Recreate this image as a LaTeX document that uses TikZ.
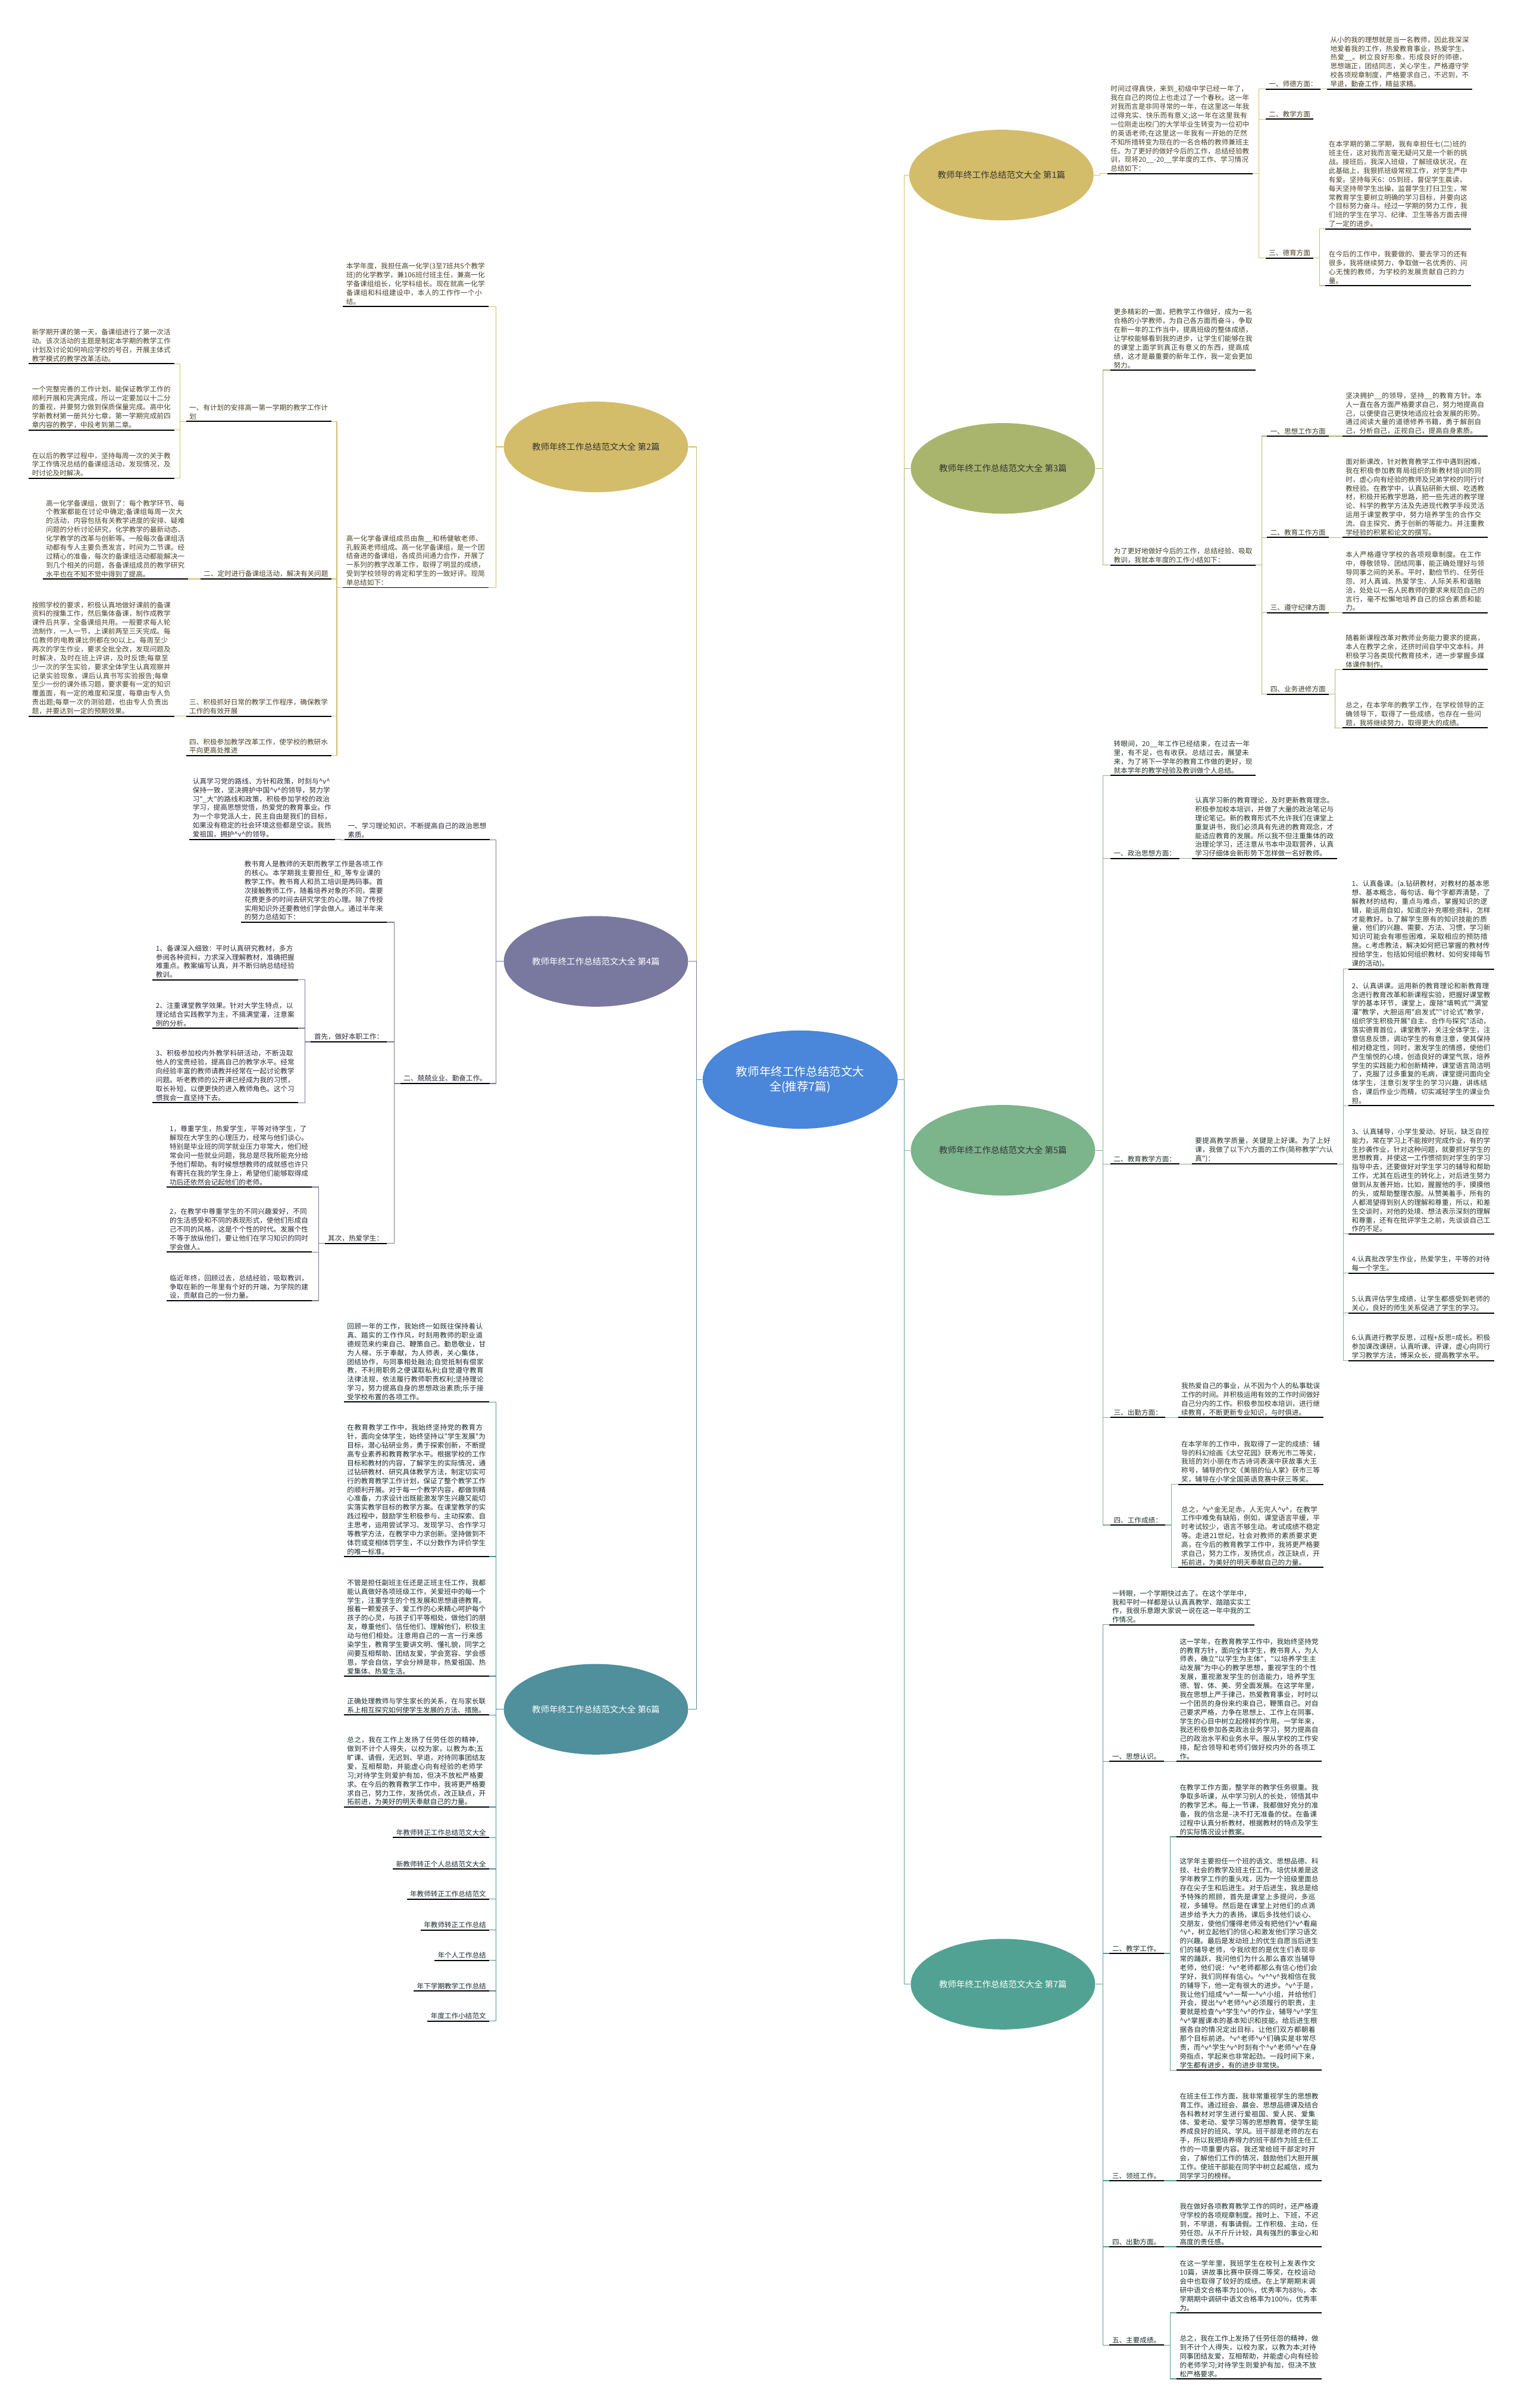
\documentclass[tikz,border=0pt]{standalone}
\usepackage{fontspec}
\newfontfamily\cjk{Noto Sans CJK SC}
\usetikzlibrary{shapes.geometric}
\XeTeXlinebreaklocale "zh"
\XeTeXlinebreakskip = 0pt plus 1pt
\newcommand{\vhat}{\textasciicircum v\textasciicircum}
\definecolor{cmain}{RGB}{74,134,217}
\definecolor{cgold}{RGB}{212,189,106}
\definecolor{colive}{RGB}{169,181,108}
\definecolor{cpurple}{RGB}{121,121,159}
\definecolor{cgreen}{RGB}{124,180,139}
\definecolor{cteal}{RGB}{80,143,156}
\definecolor{cjade}{RGB}{81,162,146}
\begin{document}
\begin{tikzpicture}[x=0.05cm,y=-0.05cm]
\tikzstyle{centre} = [ellipse, fill=cmain, text=white, minimum width=6.35cm, minimum height=3.2cm, align=center, font=\cjk\fontsize{10.8}{14}\selectfont]
\tikzstyle{main} = [ellipse, minimum width=6cm, minimum height=2.95cm, inner sep=0pt, text=black!80, font=\cjk\fontsize{8}{10}\selectfont]
\tikzstyle{ul} = [font=\cjk\fontsize{6.4}{8.2}\selectfont, align=left, inner xsep=0.1cm, inner ysep=0.05cm,
  append after command={(\tikzlastnode.south west) edge[draw=black, line width=1.1pt] (\tikzlastnode.south east)}]
\tikzstyle{leaf} = [ul, text width=4.52cm]
\tikzstyle{lbl} = [ul]
\tikzstyle{link} = [line width=0.7pt]
%
\path[use as bounding box, fill=white] (0,0) rectangle (992,1568);
%
\node[centre] (c) at (521,703) {教师年终工作总结范文大\\全(推荐7篇)};
\node[main, fill=cgold] (p1) at (652,114) {教师年终工作总结范文大全 第1篇};
\node[main, fill=cgold] (p2) at (388,291) {教师年终工作总结范文大全 第2篇};
\node[main, fill=colive] (p3) at (653,305) {教师年终工作总结范文大全 第3篇};
\node[main, fill=cpurple, text=white] (p4) at (388,626) {教师年终工作总结范文大全 第4篇};
\node[main, fill=cgreen] (p5) at (653,749) {教师年终工作总结范文大全 第5篇};
\node[main, fill=cteal, text=white] (p6) at (388,1113) {教师年终工作总结范文大全 第6篇};
\node[main, fill=cjade, text=white] (p7) at (653,1292) {教师年终工作总结范文大全 第7篇};
%
\draw[link, cgold] (c.east) -- ++(4,0) |- (p1.west);
\draw[link, cgold] (c.west) -- ++(-4,0) |- (p2.east);
\draw[link, colive] (c.east) -- ++(4,0) |- (p3.west);
\draw[link, cpurple] (c.west) -- ++(-4,0) |- (p4.east);
\draw[link, cgreen] (c.east) -- ++(4,0) |- (p5.west);
\draw[link, cteal] (c.west) -- ++(-4,0) |- (p6.east);
\draw[link, cjade] (c.east) -- ++(4,0) |- (p7.west);
%
% 第1篇
\begin{scope}[text=cgold!35!black]
\node[leaf, anchor=south west] (p1i) at (721,113) {时间过得真快，来到\_初级中学已经一年了，我在自己的岗位上也走过了一个春秋。这一年对我而言是非同寻常的一年，在这里这一年我过得充实、快乐而有意义;这一年在这里我有一位刚走出校门的大学毕业生转变为一位初中的英语老师;在这里这一年我有一开始的茫然不知所措转变为现在的一名合格的教师兼班主任。为了更好的做好今后的工作，总结经验教训，现将20\_\_-20\_\_学年度的工作、学习情况总结如下：};
\node[lbl, anchor=south west] (p1a) at (824,58) {一、师德方面：};
\node[leaf, anchor=south west] (p1a1) at (864,58) {从小的我的理想就是当一名教师，因此我深深地爱着我的工作，热爱教育事业，热爱学生、热爱\_\_。树立良好形象，形成良好的师德，思想端正，团结同志，关心学生，严格遵守学校各项规章制度，严格要求自己，不迟到，不早退，勤奋工作，精益求精。};
\node[lbl, anchor=south west] (p1b) at (824,77.6) {二、教学方面};
\node[lbl, anchor=south west] (p1c) at (824,168) {三、德育方面};
\node[leaf, anchor=south west] (p1c1) at (863,149) {在本学期的第二学期，我有幸担任七(二)班的班主任，这对我而言毫无疑问又是一个新的挑战。接班后，我深入班级，了解班级状况，在此基础上，我狠抓班级常规工作，对学生严中有爱。坚持每天6：05到班，督促学生晨读，每天坚持带学生出操，监督学生打扫卫生，常常教育学生要树立明确的学习目标，并要向这个目标努力奋斗。经过一学期的努力工作，我们班的学生在学习、纪律、卫生等各方面去得了一定的进步。};
\node[leaf, anchor=south west] (p1c2) at (863,186) {在今后的工作中，我要做的、要去学习的还有很多，我将继续努力，争取做一名优秀的、问心无愧的教师，为学校的发展贡献自己的力量。};
\end{scope}
\draw[link, cgold] (p1.east) -- ++(4,0) |- (p1i.south west);
\draw[link, cgold] (p1i.south east) -- ++(4,0) |- (p1a.south west);
\draw[link, cgold] (p1i.south east) -- ++(4,0) |- (p1b.south west);
\draw[link, cgold] (p1i.south east) -- ++(4,0) |- (p1c.south west);
\draw[link, cgold] (p1a.south east) -- ++(2,0) |- (p1a1.south west);
\draw[link, cgold] (p1c.south east) -- ++(4,0) |- (p1c1.south west);
\draw[link, cgold] (p1c.south east) -- ++(4,0) |- (p1c2.south west);
%
% 第3篇
\begin{scope}[text=colive!35!black]
\node[leaf, anchor=south west] (p3i) at (723,241) {更多精彩的一面，把教学工作做好，成为一名合格的小学教师，为自己各方面而奋斗，争取在新一年的工作当中，提高班级的整体成绩，让学校能够看到我的进步，让学生们能够在我的课堂上面学到真正有意义的东西，提高成绩，这才是最重要的新年工作，我一定会更加努力。};
\node[leaf, anchor=south west] (p3j) at (723,368) {为了更好地做好今后的工作，总结经验、吸取教训，我就本年度的工作小结如下：};
\node[lbl, anchor=south west] (p3a) at (825,284) {一、思想工作方面};
\node[leaf, anchor=south west] (p3a1) at (874,284) {坚决拥护\_\_的领导，坚持\_\_的教育方针。本人一直在各方面严格要求自己，努力地提高自己，以便使自己更快地适应社会发展的形势。通过阅读大量的道德修养书籍，勇于解剖自己，分析自己，正视自己，提高自身素质。};
\node[lbl, anchor=south west] (p3b) at (825,350) {二、教育工作方面};
\node[leaf, anchor=south west] (p3b1) at (874,350) {面对新课改，针对教育教学工作中遇到困难，我在积极参加教育局组织的新教材培训的同时，虚心向有经验的教师及兄弟学校的同行讨教经验。在教学中，认真钻研新大纲、吃透教材，积极开拓教学思路，把一些先进的教学理论、科学的教学方法及先进现代教学手段灵活运用于课堂教学中，努力培养学生的合作交流、自主探究、勇于创新的等能力。并注重教学经验的积累和论文的撰写。};
\node[lbl, anchor=south west] (p3c) at (825,399) {三、遵守纪律方面};
\node[leaf, anchor=south west] (p3c1) at (874,399) {本人严格遵守学校的各项规章制度。在工作中，尊敬领导、团结同事，能正确处理好与领导同事之间的关系。平时，勤俭节约、任劳任怨、对人真诚、热爱学生、人际关系和谐融洽，处处以一名人民教师的要求来规范自己的言行，毫不松懈地培养自己的综合素质和能力。};
\node[lbl, anchor=south west] (p3d) at (825,452) {四、业务进修方面};
\node[leaf, anchor=south west] (p3d1) at (874,436) {随着新课程改革对教师业务能力要求的提高，本人在教学之余，还挤时间自学中文本科，并积极学习各类现代教育技术，进一步掌握多媒体课件制作。};
\node[leaf, anchor=south west] (p3d2) at (874,474) {总之，在本学年的教学工作，在学校领导的正确领导下，取得了一些成绩，也存在一些问题，我将继续努力，取得更大的成绩。};
\end{scope}
\draw[link, colive] (p3.east) -- ++(5,0) |- (p3i.south west);
\draw[link, colive] (p3.east) -- ++(5,0) |- (p3j.south west);
\draw[link, colive] (p3j.south east) -- ++(4,0) |- (p3a.south west);
\draw[link, colive] (p3j.south east) -- ++(4,0) |- (p3b.south west);
\draw[link, colive] (p3j.south east) -- ++(4,0) |- (p3c.south west);
\draw[link, colive] (p3j.south east) -- ++(4,0) |- (p3d.south west);
\draw[link, colive] (p3a.south east) -- ++(4,0) |- (p3a1.south west);
\draw[link, colive] (p3b.south east) -- ++(4,0) |- (p3b1.south west);
\draw[link, colive] (p3c.south east) -- ++(4,0) |- (p3c1.south west);
\draw[link, colive] (p3d.south east) -- ++(4,0) |- (p3d1.south west);
\draw[link, colive] (p3d.south east) -- ++(4,0) |- (p3d2.south west);
%
% 第2篇
\begin{scope}[text=cgold!35!black]
\node[leaf, anchor=south east] (p2i) at (318,199.6) {本学年度，我担任高一化学(3至7班共5个教学班)的化学教学，兼106班付班主任，兼高一化学备课组组长，化学科组长。现在就高一化学备课组和科组建设中，本人的工作作一个小结。};
\node[leaf, anchor=south east] (p2j) at (318,382.6) {高一化学备课组成员由詹\_\_和杨健敏老师、孔毅英老师组成。高一化学备课组，是一个团结奋进的备课组，各成员间通力合作，开展了一系列的教学改革工作，取得了明显的成绩，受到学校领导的肯定和学生的一致好评。现简单总结如下：};
\node[leaf, anchor=south east] (p2a) at (215.8,274.5) {一、有计划的安排高一第一学期的教学工作计划};
\node[leaf, anchor=south east] (p2a1) at (113.4,236.8) {新学期开课的第一天，备课组进行了第一次活动。该次活动的主题是制定本学期的教学工作计划及讨论如何响应学校的号召，开展主体式教学模式的教学改革活动。};
\node[leaf, anchor=south east] (p2a2) at (113.4,280) {一个完整完善的工作计划，能保证教学工作的顺利开展和完满完成，所以一定要加以十二分的重视，并要努力做到保质保量完成。高中化学新教材第一册共分七章，第一学期完成前四章内容的教学，中段考到第二章。};
\node[leaf, anchor=south east] (p2a3) at (113.4,311.4) {在以后的教学过程中，坚持每周一次的关于教学工作情况总结的备课组活动，发现情况，及时讨论及时解决。};
\node[lbl, anchor=south east] (p2b) at (215.8,377) {二、定时进行备课组活动，解决有关问题};
\node[leaf, anchor=south east] (p2b1) at (122.5,377) {高一化学备课组，做到了：每个教学环节、每个教案都能在讨论中确定;备课组每周一次大的活动，内容包括有关教学进度的安排、疑难问题的分析讨论研究，化学教学的最新动态、化学教学的改革与创新等。一般每次备课组活动都有专人主要负责发言，时间为二节课。经过精心的准备，每次的备课组活动都能解决一到几个相关的问题，各备课组成员的教学研究水平也在不知不觉中得到了提高。};
\node[leaf, anchor=south east] (p2c) at (215.8,466.4) {三、积极抓好日常的教学工作程序，确保教学工作的有效开展};
\node[leaf, anchor=south east] (p2c1) at (113.4,466.4) {按照学校的要求，积极认真地做好课前的备课资料的搜集工作，然后集体备课，制作成教学课件后共享，全备课组共用。一般要求每人轮流制作，一人一节，上课前两至三天完成。每位教师的电教课比例都在90以上。每周至少两次的学生作业，要求全批全改，发现问题及时解决，及时在班上评讲，及时反馈;每章至少一次的学生实验，要求全体学生认真观察并记录实验现象，课后认真书写实验报告;每章至少一份的课外练习题，要求要有一定的知识覆盖面，有一定的难度和深度，每章由专人负责出题;每章一次的测验题，也由专人负责出题，并要达到一定的预期效果。};
\node[leaf, anchor=south east] (p2d) at (215.8,492) {四、积极参加教学改革工作，使学校的教研水平向更高处推进};
\end{scope}
\draw[link, cgold] (p2.west) -- ++(-5,0) |- (p2i.south east);
\draw[link, cgold] (p2.west) -- ++(-5,0) |- (p2j.south east);
\draw[link, cgold] (p2j.south west) -- ++(-4,0) |- (p2a.south east);
\draw[link, cgold] (p2j.south west) -- ++(-4,0) |- (p2b.south east);
\draw[link, cgold] (p2j.south west) -- ++(-4,0) |- (p2c.south east);
\draw[link, cgold] (p2j.south west) -- ++(-4,0) |- (p2d.south east);
\draw[link, cgold] (p2a.south west) -- ++(-4,0) |- (p2a1.south east);
\draw[link, cgold] (p2a.south west) -- ++(-4,0) |- (p2a2.south east);
\draw[link, cgold] (p2a.south west) -- ++(-4,0) |- (p2a3.south east);
\draw[link, cgold] (p2b.south west) -- ++(-4,0) |- (p2b1.south east);
\draw[link, cgold] (p2c.south west) -- ++(-4,0) |- (p2c1.south east);
%
% 第4篇
\begin{scope}[text=cpurple!35!black]
\node[leaf, anchor=south east] (p4a) at (319,546.8) {一、学习理论知识，不断提高自己的政治思想素质。};
\node[leaf, anchor=south east] (p4a1) at (218,546.6) {认真学习党的路线、方针和政策，时刻与\vhat{}保持一致，坚决拥护中国\vhat{}的领导，努力学习"\_大"的路线和政策，积极参加学校的政治学习，提高思想觉悟，热爱党的教育事业。作为一个非党派人士，民主自由是我们的目标，如果没有稳定的社会环境这些都是空谈。我热爱祖国，拥护\vhat{}的领导。};
\node[lbl, anchor=south east] (p4b) at (319,705.5) {二、兢兢业业、勤奋工作。};
\node[leaf, anchor=south east] (p4b1) at (251.7,600.5) {教书育人是教师的天职而教学工作是各项工作的核心。本学期我主要担任\_和\_等专业课的教学工作。教书育人和员工培训是两码事。首次接触教师工作，随着培养对象的不同，需要花费更多的时间去研究学生的心理。除了传授实用知识外还要教他们学会做人。通过半年来的努力总结如下：};
\node[lbl, anchor=south east] (p4b2) at (251.7,678.4) {首先，做好本职工作：};
\node[leaf, anchor=south east] (p4b2a) at (194,638) {1、备课深入细致：平时认真研究教材，多方参阅各种资料，力求深入理解教材，准确把握难重点。教案编写认真，并不断归纳总结经验教训。};
\node[leaf, anchor=south east] (p4b2b) at (194,669.5) {2、注重课堂教学效果。针对大学生特点，以理论结合实践教学为主，不搞满堂灌，注意案例的分析。};
\node[leaf, anchor=south east] (p4b2c) at (194,718) {3、积极参加校内外教学科研活动，不断汲取他人的宝贵经验，提高自己的教学水平。经常向经验丰富的教师请教并经常在一起讨论教学问题。听老教师的公开课已经成为我的习惯，取长补短，以便更快的进入教师角色。这个习惯我会一直坚持下去。};
\node[lbl, anchor=south east] (p4b3) at (251.7,809.6) {其次，热爱学生：};
\node[leaf, anchor=south east] (p4b3a) at (203,773) {1，尊重学生，热爱学生，平等对待学生，了解现在大学生的心理压力，经常与他们谈心。特别是毕业班的同学就业压力非常大，他们经常会问一些就业问题，我总是尽我所能充分给予他们帮助。有时候想想教师的成就感也许只有寄托在我的学生身上，希望他们能够取得成功后还依然会记起他们的老师。};
\node[leaf, anchor=south east] (p4b3b) at (203,815.3) {2，在教学中尊重学生的不同兴趣爱好，不同的生活感受和不同的表现形式，使他们形成自己不同的风格，这是个个性的时代。发展个性不等于放纵他们，要让他们在学习知识的同时学会做人。};
\node[leaf, anchor=south east] (p4b3c) at (203,847) {临近年终，回顾过去，总结经验，吸取教训，争取在新的一年里有个好的开端，为学院的建设，贡献自己的一份力量。};
\end{scope}
\draw[link, cpurple] (p4.west) -- ++(-5,0) |- (p4a.south east);
\draw[link, cpurple] (p4.west) -- ++(-5,0) |- (p4b.south east);
\draw[link, cpurple] (p4a.south west) -- ++(-3,0) |- (p4a1.south east);
\draw[link, cpurple] (p4b.south west) -- ++(-4,0) |- (p4b1.south east);
\draw[link, cpurple] (p4b.south west) -- ++(-4,0) |- (p4b2.south east);
\draw[link, cpurple] (p4b.south west) -- ++(-4,0) |- (p4b3.south east);
\draw[link, cpurple] (p4b2.south west) -- ++(-4,0) |- (p4b2a.south east);
\draw[link, cpurple] (p4b2.south west) -- ++(-4,0) |- (p4b2b.south east);
\draw[link, cpurple] (p4b2.south west) -- ++(-4,0) |- (p4b2c.south east);
\draw[link, cpurple] (p4b3.south west) -- ++(-4,0) |- (p4b3a.south east);
\draw[link, cpurple] (p4b3.south west) -- ++(-4,0) |- (p4b3b.south east);
\draw[link, cpurple] (p4b3.south west) -- ++(-4,0) |- (p4b3c.south east);
%
% 第5篇
\begin{scope}[text=cgreen!30!black]
\node[leaf, anchor=south west] (p5i) at (723,505) {转眼间，20\_\_年工作已经结束，在过去一年里，有不足，也有收获。总结过去，展望未来，为了将下一学年的教育工作做的更好，现就本学年的教学经验及教训做个人总结。};
\node[lbl, anchor=south west] (p5a) at (723,559) {一、政治思想方面：};
\node[leaf, anchor=south west] (p5a1) at (776,559) {认真学习新的教育理论，及时更新教育理念。积极参加校本培训，并做了大量的政治笔记与理论笔记。新的教育形式不允许我们在课堂上重复讲书，我们必须具有先进的教育观念，才能适应教育的发展。所以我不但注重集体的政治理论学习，还注意从书本中汲取营养，认真学习仔细体会新形势下怎样做一名好教师。};
\node[lbl, anchor=south west] (p5b) at (723,758) {二、教育教学方面：};
\node[leaf, anchor=south west] (p5b1) at (776,758) {要提高教学质量，关键是上好课。为了上好课，我做了以下六方面的工作(简称教学"六认真")：};
\node[leaf, anchor=south west] (p5b1a) at (878,631) {1、认真备课。(a.钻研教材，对教材的基本思想、基本概念，每句话、每个字都弄清楚，了解教材的结构，重点与难点，掌握知识的逻辑，能运用自如，知道应补充哪些资料，怎样才能教好。b.了解学生原有的知识技能的质量，他们的兴趣、需要、方法、习惯，学习新知识可能会有哪些困难，采取相应的预防措施。c.考虑教法，解决如何把已掌握的教材传授给学生，包括如何组织教材、如何安排每节课的活动)。};
\node[leaf, anchor=south west] (p5b1b) at (878,720) {2、认真讲课。运用新的教育理论和新教育理念进行教育改革和新课程实验，把握好课堂教学的基本环节，课堂上，废除"填鸭式""满堂灌"教学，大胆运用"启发式""讨论式"教学，组织学生积极开展"自主、合作与探究"活动，落实德育首位，课堂教学，关注全体学生，注意信息反馈，调动学生的有意注意，使其保持相对稳定性，同时，激发学生的情感，使他们产生愉悦的心境，创造良好的课堂气氛，培养学生的实践能力和创新精神，课堂语言简洁明了，克服了过多重复的毛病，课堂提问面向全体学生，注意引发学生的学习兴趣，讲练结合，课后作业少而精，切实减轻学生的课业负担。};
\node[leaf, anchor=south west] (p5b1c) at (878,803.5) {3、认真辅导，小学生爱动、好玩，缺乏自控能力，常在学习上不能按时完成作业，有的学生抄袭作业，针对这种问题，就要抓好学生的思想教育，并使这一工作惯彻到对学生的学习指导中去，还要做好对学生学习的辅导和帮助工作，尤其在后进生的转化上，对后进生努力做到从友善开始，比如，握握他的手，摸摸他的头，或帮助整理衣服。从赞美着手，所有的人都渴望得到别人的理解和尊重，所以，和差生交谈时，对他的处境、想法表示深刻的理解和尊重，还有在批评学生之前，先谈谈自己工作的不足。};
\node[leaf, anchor=south west] (p5b1d) at (878,829) {4.认真批改学生作业，热爱学生，平等的对待每一个学生。};
\node[leaf, anchor=south west] (p5b1e) at (878,855) {5.认真评估学生成绩，让学生都感受到老师的关心，良好的师生关系促进了学生的学习。};
\node[leaf, anchor=south west] (p5b1f) at (878,886) {6.认真进行教学反思，过程+反思=成长。积极参加课改课研，认真听课、评课，虚心向同行学习教学方法，博采众长，提高教学水平。};
\node[lbl, anchor=south west] (p5c) at (723,923) {三、出勤方面：};
\node[leaf, anchor=south west] (p5c1) at (767,923) {我热爱自己的事业，从不因为个人的私事耽误工作的时间。并积极运用有效的工作时间做好自己分内的工作。积极参加校本培训，进行继续教育，不断更新专业知识，与时俱进。};
\node[lbl, anchor=south west] (p5d) at (723,993) {四、工作成绩：};
\node[leaf, anchor=south west] (p5d1) at (767,966.6) {在本学年的工作中，我取得了一定的成绩：辅导的科幻绘画《太空花园》获寿光市二等奖，我班的刘小丽在市古诗词表演中获故事大王称号，辅导的作文《美丽的仙人掌》获市三等奖，辅导在小学全国英语竞赛中获三等奖。};
\node[leaf, anchor=south west] (p5d2) at (767,1020.7) {总之，\vhat{}金无足赤，人无完人\vhat{}，在教学工作中难免有缺陷，例如，课堂语言平缓，平时考试较少，语言不够生动。考试成绩不稳定等。走进21世纪，社会对教师的素质要求更高，在今后的教育教学工作中，我将更严格要求自己，努力工作，发扬优点，改正缺点，开拓前进，为美好的明天奉献自己的力量。};
\end{scope}
\draw[link, cgreen] (p5.east) -- ++(5,0) |- (p5i.south west);
\draw[link, cgreen] (p5.east) -- ++(5,0) |- (p5a.south west);
\draw[link, cgreen] (p5.east) -- ++(5,0) |- (p5b.south west);
\draw[link, cgreen] (p5.east) -- ++(5,0) |- (p5c.south west);
\draw[link, cgreen] (p5.east) -- ++(5,0) |- (p5d.south west);
\draw[link, cgreen] (p5a.south east) -- ++(4,0) |- (p5a1.south west);
\draw[link, cgreen] (p5b.south east) -- ++(4,0) |- (p5b1.south west);
\draw[link, cgreen] (p5b1.south east) -- ++(4,0) |- (p5b1a.south west);
\draw[link, cgreen] (p5b1.south east) -- ++(4,0) |- (p5b1b.south west);
\draw[link, cgreen] (p5b1.south east) -- ++(4,0) |- (p5b1c.south west);
\draw[link, cgreen] (p5b1.south east) -- ++(4,0) |- (p5b1d.south west);
\draw[link, cgreen] (p5b1.south east) -- ++(4,0) |- (p5b1e.south west);
\draw[link, cgreen] (p5b1.south east) -- ++(4,0) |- (p5b1f.south west);
\draw[link, cgreen] (p5c.south east) -- ++(4,0) |- (p5c1.south west);
\draw[link, cgreen] (p5d.south east) -- ++(4,0) |- (p5d1.south west);
\draw[link, cgreen] (p5d.south east) -- ++(4,0) |- (p5d2.south west);
%
% 第6篇
\begin{scope}[text=cteal!30!black]
\node[leaf, anchor=south east] (p6a) at (318.6,913) {回顾一年的工作，我始终一如既往保持着认真、踏实的工作作风，时刻用教师的职业道德规范来约束自己、鞭策自己。勤恳敬业，甘为人梯，乐于奉献，为人师表，关心集体，团结协作，与同事相处融洽;自觉抵制有偿家教，不利用职务之便谋取私利;自觉遵守教育法律法规，依法履行教师职责权利;坚持理论学习，努力提高自身的思想政治素质;乐于接受学校布置的各项工作。};
\node[leaf, anchor=south east] (p6b) at (318.6,1013.6) {在教育教学工作中，我始终坚持党的教育方针，面向全体学生，始终坚持以"学生发展"为目标，潜心钻研业务，勇于探索创新，不断提高专业素养和教育教学水平。根据学校的工作目标和教材的内容，了解学生的实际情况，通过钻研教材、研究具体教学方法，制定切实可行的教育教学工作计划，保证了整个教学工作的顺利开展。对于每一个教学内容，都做到精心准备，力求设计出既能激发学生兴趣又能切实落实教学目标的教学方案。在课堂教学的实践过程中，鼓励学生积极参与、主动探索、自主思考，运用尝试学习、发现学习、合作学习等教学方法，在教学中力求创新。坚持做到不体罚或变相体罚学生，不以分数作为评价学生的唯一标准。};
\node[leaf, anchor=south east] (p6c) at (318.6,1091.4) {不管是担任副班主任还是正班主任工作，我都能认真做好各项班级工作，关爱班中的每一个学生，注重学生的个性发展和思想道德教育。报着一颗爱孩子、爱工作的心来精心呵护每个孩子的心灵，与孩子们平等相处，做他们的朋友，尊重他们、信任他们、理解他们，积极主动与他们相处。注意用自己的一言一行来感染学生，教育学生要讲文明、懂礼貌，同学之间要互相帮助、团结友爱，学会宽容、学会感恩，学会自信，学会分辨是非，热爱祖国、热爱集体、热爱生活。};
\node[leaf, anchor=south east] (p6d) at (318.6,1116.8) {正确处理教师与学生家长的关系，在与家长联系上相互探究如何使学生发展的方法、措施。};
\node[leaf, anchor=south east] (p6e) at (318.6,1176.7) {总之，我在工作上发扬了任劳任怨的精神，做到不计个人得失，以校为家，以教为本;五旷课、请假，无迟到、早退，对待同事团结友爱，互相帮助，并能虚心向有经验的老师学习;对待学生则爱护有加，但决不放松严格要求。在今后的教育教学工作中，我将更严格要求自己，努力工作，发扬优点，改正缺点，开拓前进，为美好的明天奉献自己的力量。};
\node[lbl, anchor=south east] (p6f) at (318.6,1196.6) {年教师转正工作总结范文大全};
\node[lbl, anchor=south east] (p6g) at (318.6,1217) {新教师转正个人总结范文大全};
\node[lbl, anchor=south east] (p6h) at (318.6,1236.6) {年教师转正工作总结范文};
\node[lbl, anchor=south east] (p6i) at (318.6,1256.7) {年教师转正工作总结};
\node[lbl, anchor=south east] (p6j) at (318.6,1276.5) {年个人工作总结};
\node[lbl, anchor=south east] (p6k) at (318.6,1296.4) {年下学期教学工作总结};
\node[lbl, anchor=south east] (p6l) at (318.6,1316) {年度工作小结范文};
\end{scope}
\draw[link, cteal] (p6.west) -- ++(-5,0) |- (p6a.south east);
\draw[link, cteal] (p6.west) -- ++(-5,0) |- (p6b.south east);
\draw[link, cteal] (p6.west) -- ++(-5,0) |- (p6c.south east);
\draw[link, cteal] (p6.west) -- ++(-5,0) |- (p6d.south east);
\draw[link, cteal] (p6.west) -- ++(-5,0) |- (p6e.south east);
\draw[link, cteal] (p6.west) -- ++(-5,0) |- (p6f.south east);
\draw[link, cteal] (p6.west) -- ++(-5,0) |- (p6g.south east);
\draw[link, cteal] (p6.west) -- ++(-5,0) |- (p6h.south east);
\draw[link, cteal] (p6.west) -- ++(-5,0) |- (p6i.south east);
\draw[link, cteal] (p6.west) -- ++(-5,0) |- (p6j.south east);
\draw[link, cteal] (p6.west) -- ++(-5,0) |- (p6k.south east);
\draw[link, cteal] (p6.west) -- ++(-5,0) |- (p6l.south east);
%
% 第7篇
\begin{scope}[text=cjade!30!black]
\node[leaf, anchor=south west] (p7i) at (722,1058) {一转眼，一个学期快过去了。在这个学年中，我和平时一样都是认认真真教学、踏踏实实工作，我很乐意跟大家说一说在这一年中我的工作情况。};
\node[lbl, anchor=south west] (p7a) at (722,1147) {一、思想认识。};
\node[leaf, anchor=south west] (p7a1) at (766,1147) {这一学年，在教育教学工作中，我始终坚持党的教育方针，面向全体学生，教书育人，为人师表，确立"以学生为主体"，"以培养学生主动发展"为中心的教学思想，重视学生的个性发展，重视激发学生的创造能力，培养学生德、智、体、美、劳全面发展。在这学年里，我在思想上严于律己，热爱教育事业，时时以一个团员的身份来约束自己，鞭策自己。对自己要求严格，力争在思想上、工作上在同事、学生的心目中树立起榜样的作用。一学年来，我还积极参加各类政治业务学习，努力提高自己的政治水平和业务水平。服从学校的工作安排，配合领导和老师们做好校内外的各项工作。};
\node[lbl, anchor=south west] (p7b) at (722,1272) {二、教学工作。};
\node[leaf, anchor=south west] (p7b1) at (766,1196) {在教学工作方面，整学年的教学任务很重。我争取多听课，从中学习别人的长处，领悟其中的教学艺术。每上一节课，我都做好充分的准备，我的信念是–决不打无准备的仗。在备课过程中认真分析教材，根据教材的特点及学生的实际情况设计教案。};
\node[leaf, anchor=south west] (p7b2) at (766,1348) {这学年主要担任一个班的语文、思想品德、科技、社会的教学及班主任工作。培优扶差是这学年教学工作的重头戏，因为一个班级里面总存在尖子生和后进生。对于后进生，我总是给予特殊的照顾，首先是课堂上多提问，多巡视，多辅导。然后是在课堂上对他们的点滴进步给予大力的表扬，课后多找他们谈心、交朋友，使他们懂得老师没有把他们\vhat{}看扁\vhat{}，树立起他们的信心和激发他们学习语文的兴趣。最后是发动班上的优生自愿当后进生们的辅导老师，令我欣慰的是优生们表现非常的踊跃，我问他们为什么那么喜欢当辅导老师，他们说：\vhat{}老师都那么有信心他们会学好，我们同样有信心。\vhat{}\vhat{}我相信在我的辅导下，他一定有很大的进步。\vhat{}于是，我让他们组成\vhat{}一帮一\vhat{}小组，并给他们开会，提出\vhat{}老师\vhat{}必须履行的职责，主要就是检查\vhat{}学生\vhat{}的作业，辅导\vhat{}学生\vhat{}掌握课本的基本知识和技能。给后进生根据各自的情况定出目标，让他们双方都朝着那个目标前进。\vhat{}老师\vhat{}们确实是非常尽责，而\vhat{}学生\vhat{}时刻有个\vhat{}老师\vhat{}在身旁指点，学起来也非常起劲。一段时间下来，学生都有进步，有的进步非常快。};
\node[lbl, anchor=south west] (p7c) at (722,1420) {三、领班工作。};
\node[leaf, anchor=south west] (p7c1) at (766,1420) {在班主任工作方面，我非常重视学生的思想教育工作。通过班会、晨会、思想品德课及结合各科教材对学生进行爱祖国、爱人民、爱集体、爱老动、爱学习等的思想教育。使学生能养成良好的班风、学风。班干部是老师的左右手，所以我把培养得力的班干部作为班主任工作的一项重要内容。我还常给班干部定时开会，了解他们工作的情况，鼓励他们大胆开展工作。使班干部能在同学中树立起威信，成为同学学习的榜样。};
\node[lbl, anchor=south west] (p7d) at (722,1463) {四、出勤方面。};
\node[leaf, anchor=south west] (p7d1) at (766,1463) {我在做好各项教育教学工作的同时，还严格遵守学校的各项规章制度。按时上、下班，不迟到，不早退，有事请假。工作积极、主动，任劳任怨。从不斤斤计较，具有强烈的事业心和高度的责任感。};
\node[lbl, anchor=south west] (p7e) at (722,1527) {五、主要成绩。};
\node[leaf, anchor=south west] (p7e1) at (766,1506) {在这一学年里，我班学生在校刊上发表作文10篇，讲故事比赛中获得二等奖，在校运动会中也取得了较好的成绩。在上学期期末调研中语文合格率为100\%，优秀率为88\%，本学期期中调研中语文合格率为100\%，优秀率为。};
\node[leaf, anchor=south west] (p7e2) at (766,1549) {总之，我在工作上发扬了任劳任怨的精神，做到不计个人得失，以校为家，以教为本;对待同事团结友爱，互相帮助，并能虚心向有经验的老师学习;对待学生则爱护有加，但决不放松严格要求。};
\end{scope}
\draw[link, cjade] (p7.east) -- ++(5,0) |- (p7i.south west);
\draw[link, cjade] (p7.east) -- ++(5,0) |- (p7a.south west);
\draw[link, cjade] (p7.east) -- ++(5,0) |- (p7b.south west);
\draw[link, cjade] (p7.east) -- ++(5,0) |- (p7c.south west);
\draw[link, cjade] (p7.east) -- ++(5,0) |- (p7d.south west);
\draw[link, cjade] (p7.east) -- ++(5,0) |- (p7e.south west);
\draw[link, cjade] (p7a.south east) -- ++(4,0) |- (p7a1.south west);
\draw[link, cjade] (p7b.south east) -- ++(4,0) |- (p7b1.south west);
\draw[link, cjade] (p7b.south east) -- ++(4,0) |- (p7b2.south west);
\draw[link, cjade] (p7c.south east) -- ++(4,0) |- (p7c1.south west);
\draw[link, cjade] (p7d.south east) -- ++(4,0) |- (p7d1.south west);
\draw[link, cjade] (p7e.south east) -- ++(4,0) |- (p7e1.south west);
\draw[link, cjade] (p7e.south east) -- ++(4,0) |- (p7e2.south west);
\end{tikzpicture}
\end{document}
